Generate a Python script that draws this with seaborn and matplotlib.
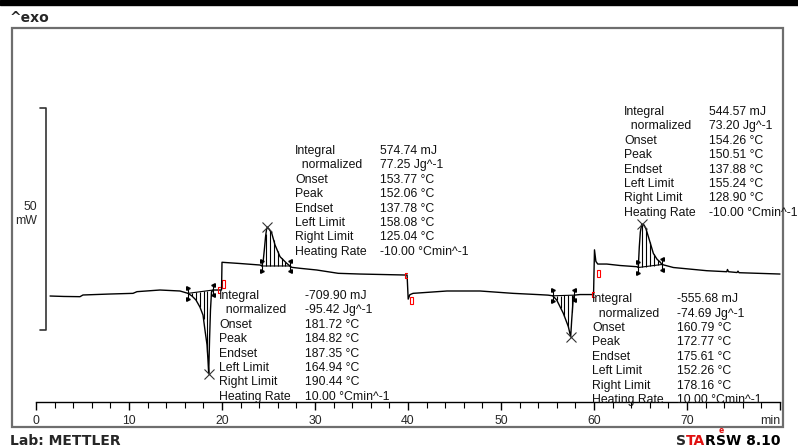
import numpy as np
import pandas as pd
import seaborn as sns
import matplotlib.pyplot as plt
from matplotlib.patches import Rectangle

# DSC curve: time in min, heat flow in mW (exo up)
time_min = [1.51, 3.0, 4.73, 5.05, 7.96, 10.43, 10.86, 13.33, 15.48, 16.34,
            16.77, 17.20, 17.63, 17.96, 18.17, 18.39, 18.49, 18.57, 18.66, 18.76,
            18.87, 19.03, 19.57, 19.95, 20.00, 20.32, 21.94, 24.09, 24.30, 24.44,
            24.57, 24.68, 24.78, 24.87, 25.05, 25.34, 25.70, 26.24, 26.96, 27.49,
            28.39, 30.18, 32.50, 34.84, 39.68, 39.90, 40.02, 40.20, 40.54, 44.19,
            47.74, 51.29, 54.19, 55.05, 55.56, 55.99, 56.70, 57.24, 57.49, 57.60,
            57.77, 57.90, 58.49, 59.95, 60.05, 60.20, 60.40, 61.37, 62.80, 64.59,
            64.76, 64.87, 64.98, 65.13, 65.38, 65.59, 65.84, 66.38, 66.77, 67.10,
            67.31, 68.53, 72.12, 74.27, 74.35, 74.46, 75.38, 75.48, 75.59, 80.00]
heat_mw = [0.00, -0.10, -0.15, 0.23, 0.45, 0.60, 0.98, 1.35, 1.13, 0.60,
           0.00, -0.90, -2.50, -4.30, -7.70, -11.0, -14.4, -17.5, -9.90, -3.20,
           0.90, 1.35, 1.35, 1.35, 7.60, 7.55, 7.32, 6.98, 6.76, 8.10,
           10.8, 13.3, 14.9, 15.5, 15.1, 14.2, 11.5, 8.85, 7.36, 6.46,
           6.24, 5.86, 5.11, 4.95, 4.73, 4.73, -0.70, 0.30, 0.60, 1.13,
           1.13, 0.60, 0.30, 0.20, 0.05, -0.90, -3.90, -6.90, -9.20, -5.40,
           -0.45, 0.20, 0.33, 0.33, 10.4, 7.80, 7.20, 7.20, 6.87, 6.60,
           6.42, 11.1, 14.4, 16.2, 16.0, 15.1, 13.4, 9.60, 8.30, 7.66,
           7.10, 6.42, 5.70, 5.47, 5.97, 5.47, 5.29, 5.60, 5.25, 4.95]

# integrated peaks
peak_left = [16.34, 24.30, 55.56, 64.76]
peak_right = [19.03, 27.31, 57.90, 67.31]
peak_top = [18.57, 24.87, 57.49, 65.13]

# segment change markers (red)
seg_bracket_t = [19.6, 39.68, 59.78]
seg_bracket_v = [(0.6, 2.0), (4.0, 5.2), (-0.2, 0.9)]
seg_box_t = [20.0, 40.2, 60.3]
seg_box_v = [(1.8, 3.6), (-1.8, -0.2), (4.3, 5.9)]

row_names = ["Integral", "  normalized", "Onset", "Peak", "Endset",
             "Left Limit", "Right Limit", "Heating Rate"]
res_peak1 = ["-709.90 mJ", "-95.42 Jg^-1", "181.72 °C", "184.82 °C",
             "187.35 °C", "164.94 °C", "190.44 °C", "10.00 °Cmin^-1"]
res_peak2 = ["574.74 mJ", "77.25 Jg^-1", "153.77 °C", "152.06 °C",
             "137.78 °C", "158.08 °C", "125.04 °C", "-10.00 °Cmin^-1"]
res_peak3 = ["-555.68 mJ", "-74.69 Jg^-1", "160.79 °C", "172.77 °C",
             "175.61 °C", "152.26 °C", "178.16 °C", "10.00 °Cmin^-1"]
res_peak4 = ["544.57 mJ", "73.20 Jg^-1", "154.26 °C", "150.51 °C",
             "137.88 °C", "155.24 °C", "128.90 °C", "-10.00 °Cmin^-1"]
# (label x, value x, first row y) in data units
res_boxes = [(res_peak1, 19.68, 28.92, 0.0),
             (res_peak2, 27.85, 36.99, 32.66),
             (res_peak3, 59.78, 68.92, -0.74),
             (res_peak4, 63.23, 72.37, 41.44)]

SCALE_MW = 50
SCALE_T = 1.08
SCALE_BOTTOM = -7.66
AXIS_Y = -23.87
ROW_STEP = 3.243

sns.set_theme(style="white")
plt.rcParams["font.family"] = ["Liberation Sans", "DejaVu Sans"]

fig = plt.figure(figsize=(7.98, 4.48), dpi=100)
ax = fig.add_axes([12 / 798, 1 - 427 / 448, 771 / 798, 399 / 448])
ax.set_xlim(-2.58, 80.32)
ax.set_ylim(-29.50, 60.36)

df = pd.DataFrame({"t": time_min, "hf": heat_mw})
sns.lineplot(data=df, x="t", y="hf", ax=ax, color="black", linewidth=1.0,
             sort=False, estimator=None)

# integration: baseline, hatching, limit marks, peak cross
for tl, tr, tp in zip(peak_left, peak_right, peak_top):
    vl = np.interp(tl, time_min, heat_mw)
    vr = np.interp(tr, time_min, heat_mw)
    ax.plot([tl, tr], [vl, vr], color="black", lw=0.8)
    hx = np.arange(tl + 0.42, tr - 0.05, 0.42)
    base = vl + (vr - vl) * (hx - tl) / (tr - tl)
    ax.vlines(hx, base, np.interp(hx, time_min, heat_mw), color="black", lw=0.8)
    for t, v, m in [(tl, vl, ">"), (tr, vr, "<")]:
        ax.plot([t, t], [v - 1.2, v + 1.2], color="black", lw=0.8)
        ax.plot([t, t], [v - 1.2, v + 1.2], ls="none", marker=m, ms=2.6,
                color="black")
    ax.plot(tp, np.interp(tp, time_min, heat_mw), marker="x", ms=7, mew=0.8,
            color="#333333")

for t, (b, tp) in zip(seg_bracket_t, seg_bracket_v):
    ax.plot([t + 0.2, t, t, t + 0.2], [tp, tp, b, b], color="red", lw=0.8)
for t, (b, tp) in zip(seg_box_t, seg_box_v):
    ax.add_patch(Rectangle((t, b), 0.3, tp - b, fill=False, ec="red", lw=0.8))

for vals, xl, xv, y0 in res_boxes:
    for i, (name, val) in enumerate(zip(row_names, vals)):
        y = y0 - i * ROW_STEP
        ax.text(xl, y, name, fontsize=8.8, va="center", color="#111111")
        ax.text(xv, y, val, fontsize=8.8, va="center", color="#111111")

# 50 mW scale bar
ax.plot([SCALE_T - 0.65, SCALE_T, SCALE_T, SCALE_T - 0.65],
        [SCALE_BOTTOM + SCALE_MW, SCALE_BOTTOM + SCALE_MW, SCALE_BOTTOM, SCALE_BOTTOM],
        color="#333333", lw=1.2)
ax.text(0.15, 18.5, f"{SCALE_MW}\nmW", fontsize=8.8, ha="right", va="center",
        multialignment="right", linespacing=1.3)

# time axis inside the frame
for s in ["top", "left", "right"]:
    ax.spines[s].set_visible(False)
ax.spines["bottom"].set_position(("data", AXIS_Y))
ax.spines["bottom"].set_bounds(0, 80)
ax.spines["bottom"].set_color("black")
ax.spines["bottom"].set_linewidth(1.0)
ax.set_xticks(np.arange(0, 81, 10))
ax.set_xticklabels([str(v) for v in range(0, 71, 10)] + ["min"])
ax.set_xticks(np.arange(0, 81, 2), minor=True)
ax.tick_params(axis="x", which="both", bottom=True, direction="out",
               color="black", labelsize=8.8, pad=3)
ax.tick_params(axis="x", which="major", length=6, width=1)
ax.tick_params(axis="x", which="minor", length=4, width=0.8)
ax.get_xticklabels()[-1].set_horizontalalignment("right")
ax.set_yticks([])
ax.set_xlabel("")
ax.set_ylabel("")
ax.add_patch(Rectangle((0, 0), 1, 1, transform=ax.transAxes, fill=False,
                       ec="#6e6e6e", lw=1.6, clip_on=False))

# page decorations
fig.add_artist(Rectangle((0, 1 - 5 / 448), 1, 5 / 448, transform=fig.transFigure,
                         color="black"))
bold = dict(family="DejaVu Sans", weight="bold", fontsize=10)
fig.text(10 / 798, 1 - 18 / 448, "^exo", va="center", **bold)
fig.text(10 / 798, 1 - 441 / 448, "Lab: METTLER", va="center", **bold)
prev = fig.text(676 / 798, 1 - 441 / 448, "S", va="center", **bold)
for part, col in [("TA", "#e01010"), ("R", "black"), ("S", "black"), ("W 8.10", "black")]:
    prev = ax.annotate(part, xy=(1, 0), xycoords=prev, va="bottom", color=col,
                       annotation_clip=False, **bold)
    if part == "S":
        ax.annotate("e", xy=(0.5, 0.95), xycoords=prev, ha="center", va="bottom",
                    color="#e01010", annotation_clip=False, family="DejaVu Sans",
                    weight="bold", fontsize=5.5)

fig.savefig("out.png", dpi=100)
